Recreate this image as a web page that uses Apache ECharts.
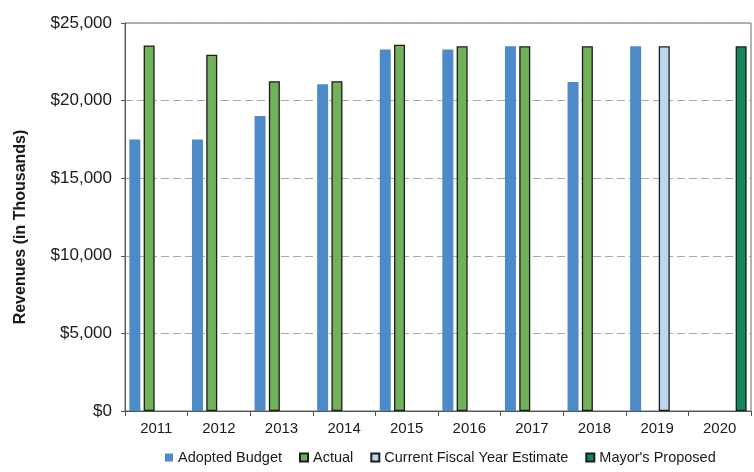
<!DOCTYPE html>
<html>
<head>
<meta charset="utf-8">
<script src="https://cdn.jsdelivr.net/npm/echarts@6/dist/echarts.min.js"></script>
<style>
  html, body { margin: 0; padding: 0; background: #fff; }
  #chart { width: 754px; height: 472px; }
</style>
</head>
<body>
<div id="chart"></div>
<script>
// Fiscal years shown on the category axis
const years = ['2011', '2012', '2013', '2014', '2015', '2016', '2017', '2018', '2019', '2020'];

// Revenues in thousands of dollars
const adoptedBudget = [17500, 17500, 19000, 21050, 23300, 23300, 23500, 21200, 23500, null];
const actual        = [23550, 22950, 21250, 21250, 23600, 23500, 23500, 23500, null, null];
const currentEstimate = [null, null, null, null, null, null, null, null, 23500, null];
const mayorsProposed  = [null, null, null, null, null, null, null, null, null, 23500];

// Value axis ticks
const yMin = 0, yMax = 25000, yStep = 5000;

const textColor = '#1a1a1a';
const fontFamily = 'Liberation Sans, Arial, sans-serif';

const chart = echarts.init(document.getElementById('chart'));

function barSeries(name, data, color, border) {
  return {
    name: name,
    type: 'bar',
    data: data,
    barWidth: 11,
    barGap: '30%',
    itemStyle: border
      ? { color: color, borderColor: '#1c1c1c', borderWidth: 1.3 }
      : { color: color },
    emphasis: { disabled: true }
  };
}

chart.setOption({
  animation: false,
  textStyle: { fontFamily: fontFamily, color: textColor },
  grid: {
    left: 125, right: 3, top: 23, bottom: 61,
    show: true, borderColor: '#666', borderWidth: 1
  },
  legend: {
    left: 160,
    bottom: 2,
    itemWidth: 8,
    itemHeight: 8,
    itemGap: 17,
    icon: 'rect',
    textStyle: { fontSize: 14.5, color: textColor, fontFamily: fontFamily },
    data: ['Adopted Budget', 'Actual', 'Current Fiscal Year Estimate', "Mayor's Proposed"]
  },
  xAxis: {
    type: 'category',
    data: years,
    axisLine: { lineStyle: { color: '#555' } },
    axisTick: { show: true, length: 5, lineStyle: { color: '#555' } },
    axisLabel: { fontSize: 15, color: textColor, margin: 10 }
  },
  yAxis: {
    type: 'value',
    min: yMin, max: yMax, interval: yStep,
    name: 'Revenues (in Thousands)',
    nameLocation: 'middle',
    nameGap: 96,
    nameTextStyle: { fontSize: 16, fontWeight: 'bold', color: textColor, padding: [0, 20, 0, 0] },
    axisLine: { show: true, lineStyle: { color: '#555' } },
    axisTick: { show: true, length: 4, lineStyle: { color: '#555' } },
    axisLabel: {
      fontSize: 17, color: textColor, margin: 13,
      formatter: v => '$' + v.toLocaleString('en-US')
    },
    splitLine: { lineStyle: { color: '#aaa', type: [8, 4] } }
  },
  series: [
    barSeries('Adopted Budget', adoptedBudget, '#4d8ac8', false),
    barSeries('Actual', actual, '#70b15a', true),
    barSeries('Current Fiscal Year Estimate', currentEstimate, '#bcd7ef', true),
    barSeries("Mayor's Proposed", mayorsProposed, '#12875a', true)
  ]
});
</script>
</body>
</html>
